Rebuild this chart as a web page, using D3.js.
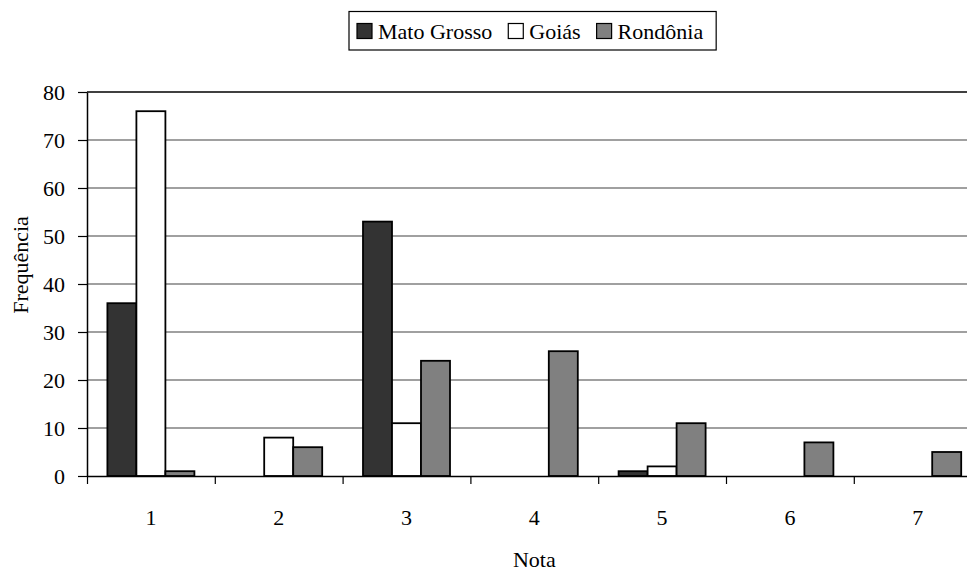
<!DOCTYPE html>
<html>
<head>
<meta charset="utf-8">
<script src="https://cdn.jsdelivr.net/npm/d3@7"></script>
</head>
<body style="margin:0">
<svg id="chart" width="967" height="572"></svg>
<script>
// Grade categories (Nota) and frequency per state
const categories = ["1", "2", "3", "4", "5", "6", "7"];
const seriesNames = ["Mato Grosso", "Goiás", "Rondônia"];
const matoGrosso = [36, 0, 53, 0, 1, 0, 0];
const goias = [76, 8, 11, 0, 2, 0, 0];
const rondonia = [1, 6, 24, 26, 11, 7, 5];
const yTicks = [0, 10, 20, 30, 40, 50, 60, 70, 80];
const seriesColors = ["#333333", "#ffffff", "#808080"];

const seriesValues = [matoGrosso, goias, rondonia];
const FONT = "'Liberation Serif', 'Times New Roman', Times, serif";

const svg = d3.select("#chart");
const plot = { left: 87, top: 92, bottom: 476, right: 981.6 };

const x0 = d3.scaleBand().domain(categories).range([plot.left, plot.right]).padding(0);
const xEdge = d3.scaleLinear().domain([0, categories.length]).range([plot.left, plot.right]);
const x1 = d3.scaleBand().domain(seriesNames).range([20.4, x0.bandwidth() - 20.4]).padding(0);
const y = d3.scaleLinear().domain([0, 80]).range([plot.bottom, plot.top]);

function label(sel) {
  return sel.style("font-family", FONT).style("font-size", "22px").style("fill", "#000");
}

// Horizontal gridlines
svg.append("g")
  .selectAll("line")
  .data(yTicks.filter(t => t > 0))
  .join("line")
  .attr("x1", plot.left)
  .attr("x2", plot.right)
  .attr("y1", d => y(d))
  .attr("y2", d => y(d))
  .attr("stroke", d => d === 80 ? "#000" : "#808080")
  .attr("stroke-width", 1.5);

// Bars
const rows = categories.map((c, i) => ({
  cat: c,
  vals: seriesNames.map((s, k) => ({ series: s, value: seriesValues[k][i], k }))
}));

svg.append("g")
  .selectAll("g")
  .data(rows)
  .join("g")
  .attr("transform", d => `translate(${x0(d.cat)},0)`)
  .selectAll("rect")
  .data(d => d.vals.filter(v => v.value > 0))
  .join("rect")
  .attr("x", d => x1(d.series))
  .attr("width", x1.bandwidth())
  .attr("y", d => y(d.value))
  .attr("height", d => y(0) - y(d.value))
  .attr("fill", d => seriesColors[d.k])
  .attr("stroke", "#000")
  .attr("stroke-width", 1.8);

// Y axis: line and ticks from the axis generator, labels drawn alongside
const yAxis = svg.append("g")
  .attr("transform", `translate(${plot.left},0)`)
  .call(d3.axisLeft(y).tickValues(yTicks).tickSize(9).tickFormat("").tickSizeOuter(0));
yAxis.select(".domain").attr("stroke", "#000").attr("stroke-width", 1.5);
yAxis.selectAll(".tick line").attr("stroke", "#000").attr("stroke-width", 1.2);
yAxis.selectAll(".tick text").remove();

svg.append("g")
  .selectAll("text")
  .data(yTicks)
  .join("text")
  .attr("x", plot.left - 22)
  .attr("y", d => y(d))
  .attr("dy", "0.35em")
  .attr("text-anchor", "end")
  .call(label)
  .text(d => d);

// X axis: tick marks at category boundaries
const xTicks = svg.append("g")
  .attr("transform", `translate(0,${plot.bottom})`)
  .call(d3.axisBottom(xEdge).ticks(categories.length).tickFormat("").tickSize(8).tickSizeOuter(0));
xTicks.select(".domain").attr("stroke", "#000").attr("stroke-width", 1.5);
xTicks.selectAll(".tick line").attr("stroke", "#000").attr("stroke-width", 1.2);
xTicks.selectAll(".tick text").remove();

// X labels at category centres
svg.append("g")
  .selectAll("text")
  .data(categories)
  .join("text")
  .attr("x", d => x0(d) + x0.bandwidth() / 2)
  .attr("y", 525)
  .attr("text-anchor", "middle")
  .call(label)
  .text(d => d);

// Axis titles
svg.append("text")
  .attr("x", (plot.left + plot.right) / 2)
  .attr("y", 567)
  .attr("text-anchor", "middle")
  .call(label)
  .text("Nota");

svg.append("text")
  .attr("transform", "translate(28,265) rotate(-90)")
  .attr("text-anchor", "middle")
  .call(label)
  .text("Frequência");

// Legend
const legend = svg.append("g");
const legendBox = legend.append("rect")
  .attr("fill", "#fff").attr("stroke", "#000").attr("stroke-width", 1.2);
let lx = 357;
seriesNames.forEach((name, k) => {
  legend.append("rect")
    .attr("x", lx).attr("y", 23.5)
    .attr("width", 15).attr("height", 15)
    .attr("fill", seriesColors[k])
    .attr("stroke", "#000").attr("stroke-width", 1.2);
  const t = legend.append("text")
    .attr("x", lx + 21).attr("y", 39)
    .call(label)
    .text(name);
  lx += 21 + t.node().getComputedTextLength() + 16;
});
legendBox
  .attr("x", 349).attr("y", 11.5)
  .attr("width", lx - 16 + 13 - 349)
  .attr("height", 38.5);
legendBox.lower();
</script>
</body>
</html>
